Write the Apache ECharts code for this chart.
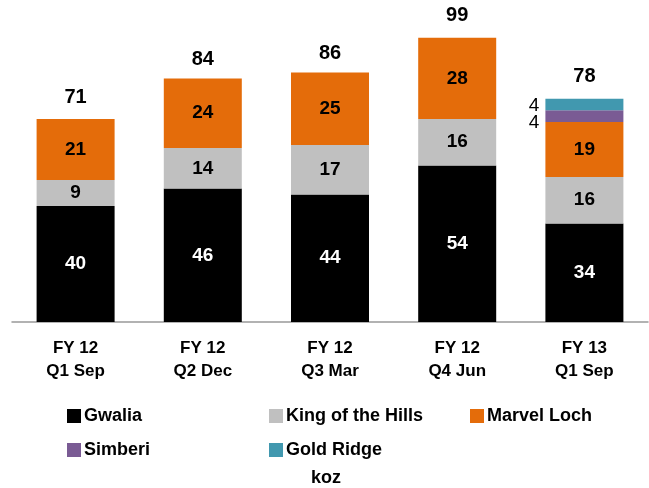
<!DOCTYPE html>
<html>
<head>
<meta charset="utf-8">
<style>
  html, body { margin: 0; padding: 0; background: #fff; }
  #chart { width: 649px; height: 488px; }
</style>
<script src="https://cdn.jsdelivr.net/npm/echarts@6/dist/echarts.min.js"></script>
</head>
<body>
<div id="chart"></div>
<script>
const FONT = '"Liberation Sans Narrow", "Liberation Sans", sans-serif';

const categories = ['FY 12\nQ1 Sep', 'FY 12\nQ2 Dec', 'FY 12\nQ3 Mar', 'FY 12\nQ4 Jun', 'FY 13\nQ1 Sep'];
const gwalia = [40, 46, 44, 54, 34];
const kingOfTheHills = [9, 14, 17, 16, 16];
const marvelLoch = [21, 24, 25, 28, 19];
const simberi = [null, null, null, null, 4];
const goldRidge = [null, null, null, null, 4];
const totals = [71, 84, 86, 99, 78];

const seriesDefs = [
  { name: 'Gwalia', data: gwalia, color: '#000000', labelColor: '#ffffff' },
  { name: 'King of the Hills', data: kingOfTheHills, color: '#c0c0c0', labelColor: '#000000' },
  { name: 'Marvel Loch', data: marvelLoch, color: '#e46c0a', labelColor: '#000000' },
  { name: 'Simberi', data: simberi, color: '#7a5b94', side: true, offsetY: 7 },
  { name: 'Gold Ridge', data: goldRidge, color: '#4198af', side: true, offsetY: 1 },
];

const legendSpots = [
  { name: 'Gwalia', left: 62, top: 402 },
  { name: 'King of the Hills', left: 264, top: 402 },
  { name: 'Marvel Loch', left: 465, top: 402 },
  { name: 'Simberi', left: 62, top: 436 },
  { name: 'Gold Ridge', left: 264, top: 436 },
];

const chart = echarts.init(document.getElementById('chart'));

const barSeries = seriesDefs.map((s) => ({
  name: s.name,
  type: 'bar',
  stack: 'total',
  data: s.data,
  barWidth: 78,
  itemStyle: { color: s.color },
  label: s.side
    ? {
        show: true,
        position: 'left',
        distance: 6,
        offset: [0, s.offsetY],
        color: '#000',
        fontFamily: '"Liberation Sans", sans-serif',
        fontSize: 19,
        fontWeight: 'normal',
      }
    : {
        show: true,
        position: 'inside',
        color: s.labelColor,
        fontFamily: FONT,
        fontSize: 19,
        fontWeight: 'bold',
      },
}));

chart.setOption({
  animation: false,
  textStyle: { fontFamily: FONT },
  grid: { left: 12, right: 1, top: 32, height: 290 },
  legend: legendSpots.map((l) => ({
    data: [l.name],
    left: l.left,
    top: l.top,
    itemWidth: 14,
    itemHeight: 14,
    itemGap: 0,
    selectedMode: false,
    icon: 'rect',
    textStyle: { fontFamily: FONT, fontSize: 18, fontWeight: 'bold', color: '#000', padding: [0, 0, 0, -2] },
  })),
  title: {
    text: 'koz',
    left: 311,
    top: 469,
    padding: 0,
    textStyle: { fontFamily: FONT, fontSize: 18, fontWeight: 'bold', color: '#000' },
  },
  xAxis: {
    type: 'category',
    data: categories,
    axisTick: { show: false },
    axisLine: { lineStyle: { color: '#999', width: 1.5 } },
    axisLabel: {
      margin: 15,
      color: '#000',
      fontFamily: FONT,
      fontSize: 17,
      fontWeight: 'bold',
      lineHeight: 23,
    },
  },
  yAxis: {
    type: 'value',
    min: 0,
    max: 100,
    show: false,
    splitLine: { show: false },
  },
  series: [
    ...barSeries,
    {
      name: 'Total',
      type: 'scatter',
      data: totals,
      symbolSize: 0,
      silent: true,
      itemStyle: { opacity: 1 },
      label: {
        show: true,
        position: 'top',
        distance: 9,
        color: '#000',
        fontFamily: FONT,
        fontSize: 20,
        fontWeight: 'bold',
      },
    },
  ],
});
</script>
</body>
</html>
